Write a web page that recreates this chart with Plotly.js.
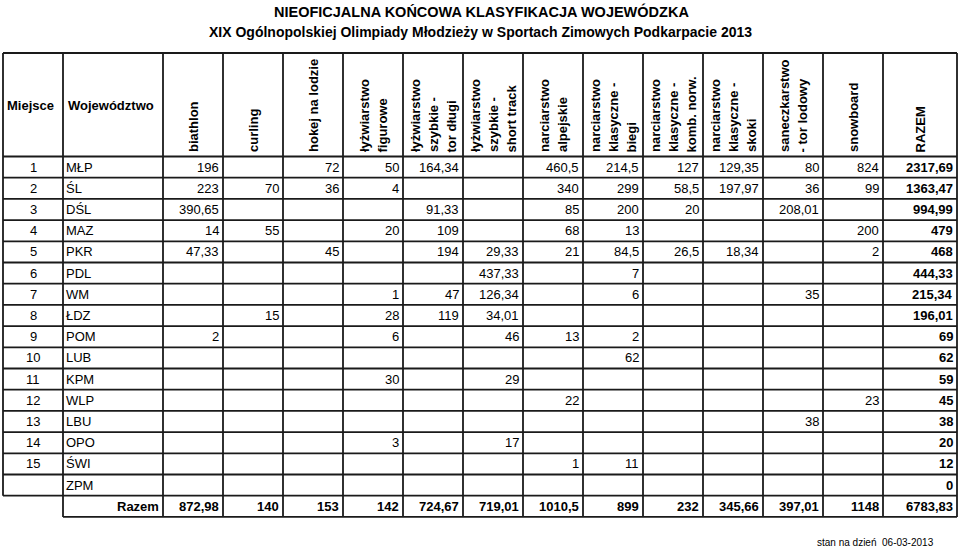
<!DOCTYPE html>
<html>
<head>
<meta charset="utf-8">
<script src="https://cdn.plot.ly/plotly-3.0.1.min.js"></script>
<style>
  body { margin: 0; background: #fff; }
  #plot { width: 960px; height: 548px; }
</style>
</head>
<body>
<div id="plot"></div>
<script>
// table contents
var places = ["1", "2", "3", "4", "5", "6", "7", "8", "9", "10", "11", "12", "13", "14", "15", ""];
var regions = ["MŁP", "ŚL", "DŚL", "MAZ", "PKR", "PDL", "WM", "ŁDZ", "POM", "LUB", "KPM", "WLP", "LBU", "OPO", "ŚWI", "ZPM"];
var headers = ["biathlon", "curling", "hokej na lodzie", "łyżwiarstwo<br>figurowe",
    "łyżwiarstwo<br>szybkie -<br>tor długi", "łyżwiarstwo<br>szybkie -<br>short track",
    "narciarstwo<br>alpejskie", "narciarstwo<br>klasyczne -<br>biegi",
    "narciarstwo<br>klasyczne -<br>komb. norw.", "narciarstwo<br>klasyczne -<br>skoki",
    "saneczkarstwo<br>- tor lodowy", "snowboard", "RAZEM"];

var biathlon   = [196, 223, 390.65, 14, 47.33, null, null, null, 2, null, null, null, null, null, null, null];
var curling    = [null, 70, null, 55, null, null, null, 15, null, null, null, null, null, null, null, null];
var hokej      = [72, 36, null, null, 45, null, null, null, null, null, null, null, null, null, null, null];
var figurowe   = [50, 4, null, 20, null, null, 1, 28, 6, null, 30, null, null, 3, null, null];
var torDlugi   = [164.34, null, 91.33, 109, 194, null, 47, 119, null, null, null, null, null, null, null, null];
var shortTrack = [null, null, null, null, 29.33, 437.33, 126.34, 34.01, 46, null, 29, null, null, 17, null, null];
var alpejskie  = [460.5, 340, 85, 68, 21, null, null, null, 13, null, null, 22, null, null, 1, null];
var biegi      = [214.5, 299, 200, 13, 84.5, 7, 6, null, 2, 62, null, null, null, null, 11, null];
var kombNorw   = [127, 58.5, 20, null, 26.5, null, null, null, null, null, null, null, null, null, null, null];
var skoki      = [129.35, 197.97, null, null, 18.34, null, null, null, null, null, null, null, null, null, null, null];
var sanecz     = [80, 36, 208.01, null, null, null, 35, null, null, null, null, null, 38, null, null, null];
var snowboard  = [824, 99, null, 200, 2, null, null, null, null, null, null, 23, null, null, null, null];
var razem      = [2317.69, 1363.47, 994.99, 479, 468, 444.33, 215.34, 196.01, 69, 62, 59, 45, 38, 20, 12, 0];
var totals     = [872.98, 140, 153, 142, 724.67, 719.01, 1010.5, 899, 232, 345.66, 397.01, 1148, 6783.83];

var columns = [biathlon, curling, hokej, figurowe, torDlugi, shortTrack, alpejskie, biegi,
    kombNorw, skoki, sanecz, snowboard, razem];

// grid geometry (in axis units = pixels)
var colEdges = [3, 63, 163, 223, 283, 343, 403, 463, 523, 583, 643, 703, 763, 823, 883, 957];
var headTop = 53, headBottom = 156.5, rowH = 21.2;
var nRows = places.length + 1;
var rowEdges = [];
for (var r = 0; r <= nRows; r++) rowEdges.push(headBottom + r * rowH);
var headLineGap = 18;

var font = "Liberation Sans, Arial, Helvetica, sans-serif";
var lineColor = "#1a1a1a";

function fmt(v) {
    return String(v).replace(".", ",");
}

function note(text, x, y, xanchor, yanchor, size, extra) {
    var a = {
        text: text, x: x, y: y, xref: "x", yref: "y",
        xanchor: xanchor, yanchor: yanchor, showarrow: false, borderpad: 0,
        font: {family: font, size: size, color: "#000"}
    };
    for (var k in extra) a[k] = extra[k];
    return a;
}

var annotations = [];
var shapes = [];

// titles
annotations.push(note("<b>NIEOFICJALNA KOŃCOWA KLASYFIKACJA WOJEWÓDZKA</b>", 481, 11, "center", "middle", 14.5));
annotations.push(note("<b>XIX Ogólnopolskiej Olimpiady Młodzieży w Sportach Zimowych Podkarpacie 2013</b>", 480, 32, "center", "middle", 14));

// header
var headMid = (headTop + headBottom) / 2 + 1;
annotations.push(note("<b>Miejsce</b>", colEdges[0] + 3, headMid, "left", "middle", 13));
annotations.push(note("<b>Województwo</b>", colEdges[1] + 4, headMid, "left", "middle", 13));
headers.forEach(function (h, i) {
    var cx = (colEdges[i + 2] + colEdges[i + 3]) / 2;
    var parts = h.split("<br>");
    parts.forEach(function (p, j) {
        var x = cx + (j - (parts.length - 1) / 2) * headLineGap;
        annotations.push(note("<b>" + p + "</b>", x, headBottom - 3, "center", "bottom", 13,
            {textangle: -90}));
    });
});

// body rows
places.forEach(function (p, r) {
    var cy = (rowEdges[r] + rowEdges[r + 1]) / 2;
    if (p) annotations.push(note(p, (colEdges[0] + colEdges[1]) / 2, cy, "center", "middle", 13));
    annotations.push(note(regions[r], colEdges[1] + 2, cy, "left", "middle", 13));
    columns.forEach(function (col, c) {
        var v = col[r];
        if (v === null) return;
        var t = c === columns.length - 1 ? "<b>" + fmt(v) + "</b>" : fmt(v);
        annotations.push(note(t, colEdges[c + 3] - 3, cy, "right", "middle", 13));
    });
});

// totals row
var ty = (rowEdges[nRows - 1] + rowEdges[nRows]) / 2;
annotations.push(note("<b>Razem</b>", colEdges[2] - 3, ty, "right", "middle", 13));
totals.forEach(function (v, c) {
    annotations.push(note("<b>" + fmt(v) + "</b>", colEdges[c + 3] - 3, ty, "right", "middle", 13));
});

// footer
annotations.push(note("stan na dzień  06-03-2013", 935, 542, "right", "middle", 10));

// grid lines
function line(x0, y0, x1, y1) {
    shapes.push({type: "line", xref: "x", yref: "y", x0: x0, y0: y0, x1: x1, y1: y1,
        line: {color: lineColor, width: 1.8}});
}
colEdges.forEach(function (x, i) {
    line(x, headTop, x, i === 0 ? rowEdges[nRows - 1] : rowEdges[nRows]);
});
line(colEdges[0], headTop, colEdges[colEdges.length - 1], headTop);
rowEdges.forEach(function (y, r) {
    var x0 = r === nRows ? colEdges[1] : colEdges[0];
    line(x0, y, colEdges[colEdges.length - 1], y);
});

var data = [{x: [], y: [], type: "scatter", mode: "markers", hoverinfo: "skip", showlegend: false}];

var layout = {
    width: 960, height: 548,
    margin: {l: 0, r: 0, t: 0, b: 0},
    paper_bgcolor: "#fff", plot_bgcolor: "#fff",
    xaxis: {range: [0, 960], visible: false, fixedrange: true},
    yaxis: {range: [548, 0], visible: false, fixedrange: true},
    showlegend: false,
    annotations: annotations,
    shapes: shapes
};

Plotly.newPlot("plot", data, layout, {staticPlot: true, displayModeBar: false});
</script>
</body>
</html>
